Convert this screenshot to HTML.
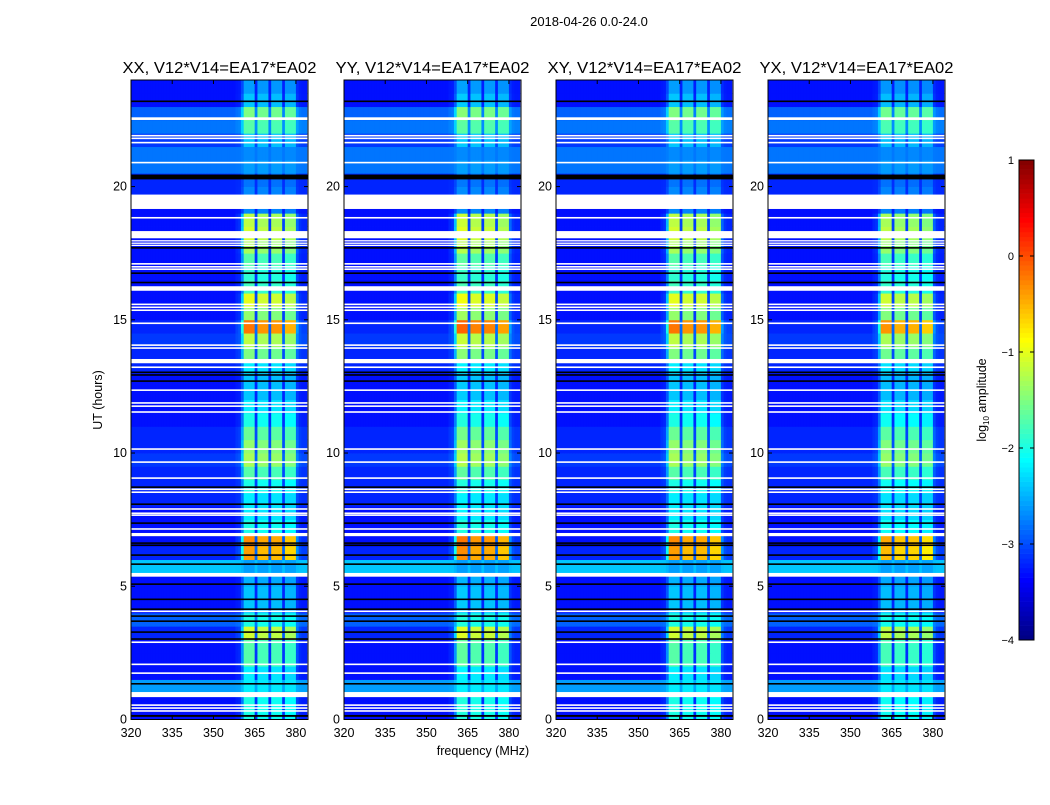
<!DOCTYPE html>
<html><head><meta charset="utf-8"><style>
body{margin:0;background:#fff;}
svg text{font-family:"Liberation Sans","DejaVu Sans",sans-serif;fill:#000;}
</style></head><body>
<svg id="fig" width="1050" height="800" viewBox="0 0 1050 800" xmlns="http://www.w3.org/2000/svg">
<rect width="1050" height="800" fill="#fff"/>
<text x="589" y="26" font-size="13" text-anchor="middle">2018-04-26 0.0-24.0</text>
<text x="483" y="755" font-size="12.5" text-anchor="middle">frequency (MHz)</text>
<text transform="translate(102,400) rotate(-90)" font-size="12.5" text-anchor="middle">UT (hours)</text>
<g id="panels"></g>
<g id="cbar"></g>
<text transform="translate(986,400) rotate(-90)" font-size="12.5" text-anchor="middle">log<tspan font-size="8" dy="3">10</tspan><tspan dy="-3"> amplitude</tspan></text>
</svg>
<script>
// ---- data ----
const panelTitles = ["XX, V12*V14=EA17*EA02","YY, V12*V14=EA17*EA02","XY, V12*V14=EA17*EA02","YX, V12*V14=EA17*EA02"];
const panelScale = [1.0, 1.03, 1.0, 0.95];
const xTicks = [320,335,350,365,380];
const yTicks = [0,5,10,15,20];
const cbarTicks = [1,0,-1,-2,-3,-4];
// background log amplitude per 0.5 h bin (0..23.5)
const background = [-3.3,-3.3,-2.6,-3.3,-3.3,-3.3,-3.2,-2.9,-3.3,-3.3,-3.3,-2.4,-3.2,-3.3,-3.3,-3.3,-3.2,-3.2,-3.2,-3.1,-3.2,-3.2,-3.3,-3.3,
  -3.3,-3.3,-3.2,-3.2,-3.1,-3.2,-3.3,-3.3,-3.3,-3.3,-3.3,-3.3,-3.3,-3.3,-3.3,-3.2,-3.2,-2.8,-2.8,-3.1,-2.8,-2.9,-3.3,-3.3];
// 360-380 MHz band log amplitude per 0.5 h bin
const bandLevel = [-2.0,-2.0,-2.2,-2.2,-1.7,-1.7,-1.1,-2.0,-2.4,-2.4,-2.5,-2.6,-0.4,-0.3,-2.0,-2.2,-2.2,-2.0,-1.7,-1.3,-1.4,-1.6,-2.0,-2.2,
  -2.4,-2.4,-2.2,-1.5,-1.2,-0.2,-1.4,-1.0,-1.8,-1.9,-1.7,-1.3,-1.1,-1.2,-2.7,-2.7,-2.8,-2.6,-2.7,-2.4,-1.7,-1.5,-2.4,-2.6];
// frequency profile per 1 MHz bin from 320 MHz (0..1 weight of band)
const freqProfile = [0,0,0,0,0,0,0,0,0,0, 0,0,0,0,0,0,0,0,0,0, 0,0,0,0,0,0,0,0,0,0, 0,0,0,0,0,0,0,0,0.05,0.08,
  0.4,1,1,1,1,0.12,0.95,0.95,0.95,0.95, 0.1,0.95,0.95,0.95,0.95,0.12,0.9,0.9,0.9,0.9, 0.2,0.08,0.05,0.05];
// flagged (white) intervals in hours [start,end]
const whiteFlags = [[22.5,22.6],[21.88,21.94],[21.78,21.84],[21.62,21.68],[20.87,20.93],[19.16,19.7],[18.8,18.86],[18.06,18.33],[17.94,17.99],[17.85,17.9],[17.77,17.82],
  [17.07,17.13],[16.96,17.02],[16.87,16.93],[16.09,16.26],[15.55,15.61],[15.44,15.5],[15.33,15.39],[14.84,14.9],[14.02,14.08],[13.91,13.97],[13.37,13.53],[13.19,13.25],
  [12.33,12.39],[11.85,11.91],[11.73,11.79],[11.51,11.57],[10.12,10.18],[9.63,9.69],[9.03,9.09],[8.61,8.67],[8.5,8.56],[7.87,7.93],[7.71,7.77],[7.64,7.7],[7.12,7.18],
  [6.88,7.0],[5.36,5.5],[4.03,4.09],[2.87,2.93],[2.04,2.1],[1.71,1.77],[0.84,1.03],[0.51,0.57],[0.4,0.46],[0.29,0.35]];
// dropout (black) intervals in hours
const blackFlags = [[23.17,23.23],[20.27,20.45],[17.67,17.73],[16.72,16.78],[16.37,16.43],[13.0,13.06],[12.9,12.96],[12.67,12.73],[8.69,8.75],[8.05,8.11],[7.34,7.4],
  [6.59,6.65],[6.51,6.57],[6.14,6.2],[5.8,5.86],[5.05,5.11],[4.48,4.54],[4.11,4.17],[3.85,3.91],[3.66,3.72],[3.25,3.31],[2.99,3.05],[1.31,1.37],[0.1,0.17]];
// ---- drawing ----
const NS="http://www.w3.org/2000/svg";
const panelX=[131,344,556,768], PW=177, YT=80, YB=719.5;
const fMin=320, fMax=384.4, hMax=24;
function jet(v){const x=Math.max(0,Math.min(1,(v+4)/5));const c=t=>Math.round(255*Math.max(0,Math.min(1,1.5-Math.abs(4*x-t))));return `rgb(${c(3)},${c(2)},${c(1)})`;}
function mk(tag,attrs,parent){const e=document.createElementNS(NS,tag);for(const k in attrs)e.setAttribute(k,attrs[k]);parent.appendChild(e);return e;}
const root=document.getElementById('panels');
panelTitles.forEach((title,p)=>{
  const x0=panelX[p];
  const xs=f=>x0+(f-fMin)/(fMax-fMin)*PW;
  const ys=h=>YB-h/hMax*(YB-YT);
  const g=mk('g',{},root);
  
  
  const hm=mk('g',{},g);
  
  
  for(let t=0;t<background.length;t++){
    const h0=t*0.5,h1=h0+0.5;
    for(let f=0;f<freqProfile.length;f++){
      const f0=fMin+f, f1=Math.min(fMax,f0+1);
      const w=freqProfile[f]*panelScale[p];
      const v=background[t]+w*(bandLevel[t]-background[t]);
      const r=mk('rect',{x:xs(f0).toFixed(2),y:ys(h1).toFixed(2),width:(xs(f1)-xs(f0)+0.4).toFixed(2),height:(ys(h0)-ys(h1)+0.4).toFixed(2),fill:jet(v)},hm);
      
      
    }
  }
  whiteFlags.forEach(([a,b])=>{
    const r=mk('rect',{x:x0,y:ys(b),width:PW,height:Math.max(1.3,ys(a)-ys(b)),fill:'#fff'},g);
    
    
  });
  blackFlags.forEach(([a,b])=>{
    const r=mk('rect',{x:x0,y:ys(b),width:PW,height:Math.max(1.2,ys(a)-ys(b)),fill:'#000'},g);
    
    
  });
  const fr=mk('rect',{x:x0,y:YT,width:PW,height:YB-YT,fill:'none',stroke:'#000','stroke-width':1},g);
  
  
  const tt=mk('text',{x:x0+PW/2,y:73,'font-size':16,'text-anchor':'middle',textLength:194,lengthAdjust:'spacingAndGlyphs'},g);
  tt.textContent=title;
  
  
  xTicks.forEach(v=>{
    const x=xs(v);
    mk('line',{x1:x,x2:x,y1:YB,y2:YB-4,stroke:'#000'},g);
    mk('line',{x1:x,x2:x,y1:YT,y2:YT+4,stroke:'#000'},g);
    const l=mk('text',{x:x,y:737,'font-size':12.5,'text-anchor':'middle'},g);
    l.textContent=v;
    
    
  });
  yTicks.forEach(v=>{
    const y=ys(v);
    mk('line',{x1:x0,x2:x0+4,y1:y,y2:y,stroke:'#000'},g);
    mk('line',{x1:x0+PW,x2:x0+PW-4,y1:y,y2:y,stroke:'#000'},g);
    const l=mk('text',{x:x0-4,y:y+4,'font-size':12.5,'text-anchor':'end'},g);
    l.textContent=v;
    
    
  });
});
// colorbar
const cb=document.getElementById('cbar');
const CX=1019,CW=15,CT=160,CB=640;
const cys=v=>CB-(v+4)/5*(CB-CT);
for(let i=0;i<100;i++){
  const v0=-4+i*0.05;
  const r=mk('rect',{x:CX,y:cys(v0+0.05),width:CW,height:(cys(v0)-cys(v0+0.05)+0.3).toFixed(2),fill:jet(v0+0.025)},cb);
  
  
}
mk('rect',{x:CX,y:CT,width:CW,height:CB-CT,fill:'none',stroke:'#000'},cb);
cbarTicks.forEach(v=>{
  const y=cys(v);
  mk('line',{x1:CX,x2:CX+4,y1:y,y2:y,stroke:'#000'},cb);
  mk('line',{x1:CX+CW,x2:CX+CW-4,y1:y,y2:y,stroke:'#000'},cb);
  const l=mk('text',{x:CX-5,y:y+4,'font-size':11,'text-anchor':'end'},cb);
  l.textContent=(v<0?'\u2212'+(-v):v);
  
  
});
</script>
</body></html>
